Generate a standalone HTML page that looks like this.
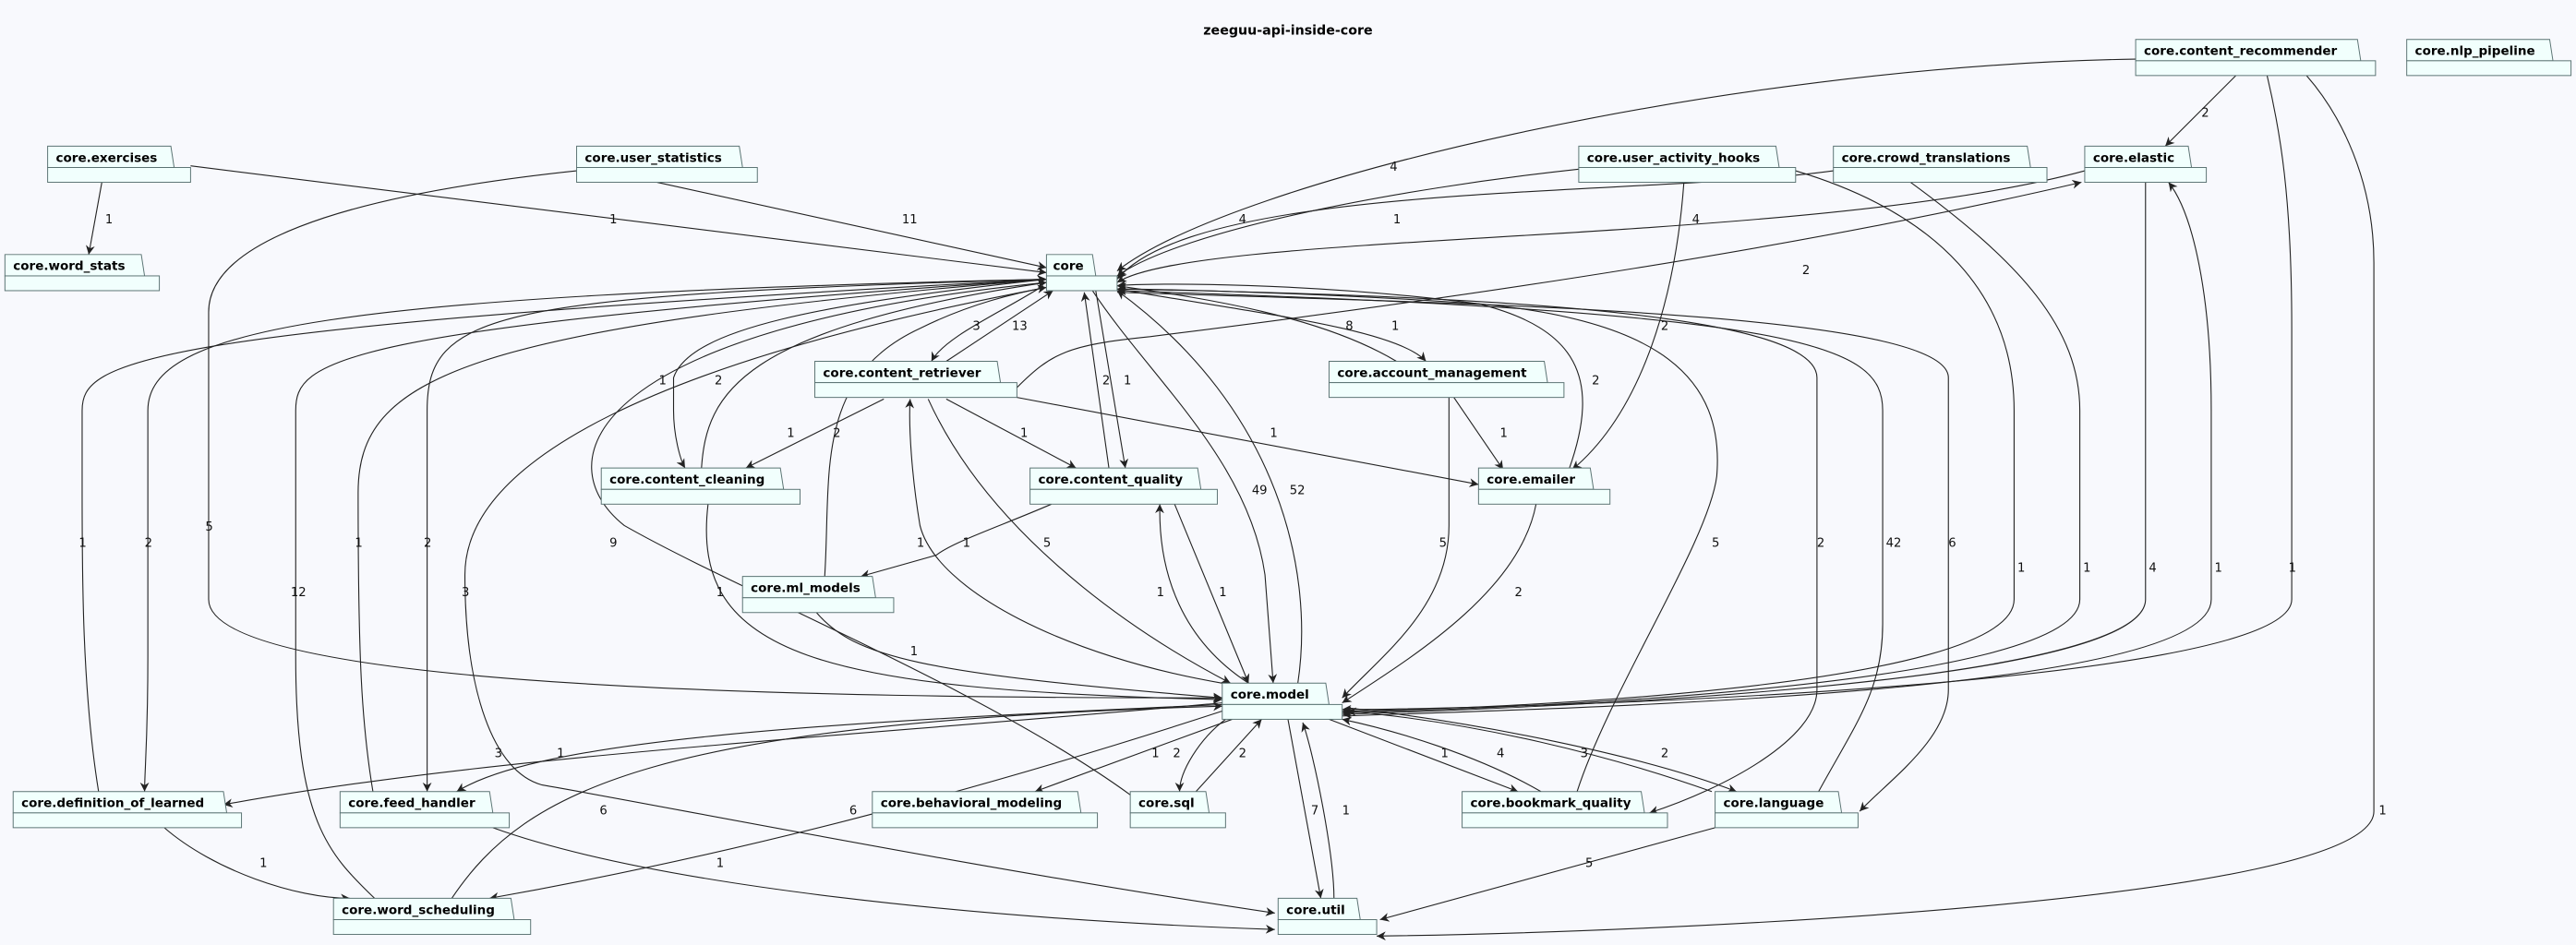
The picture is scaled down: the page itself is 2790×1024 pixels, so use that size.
<!DOCTYPE html>
<html><head><meta charset="utf-8"><style>
html,body{margin:0;padding:0;background:#F8F9FD;}
svg{display:block}
.e{fill:none;stroke:#222;stroke-width:0.62;}
.l{font-family:"DejaVu Sans","Liberation Sans",sans-serif;font-size:7.4px;fill:#111;}
.n{font-family:"DejaVu Sans","Liberation Sans",sans-serif;font-size:7.6px;font-weight:bold;fill:#000;}
.t{fill:#F1FFFD;stroke:#5b7373;stroke-width:0.55;}
</style></head><body>
<svg width="2790" height="1024" viewBox="0 0 2790 1024" xmlns="http://www.w3.org/2000/svg">
<rect width="2790" height="1024" fill="#F8F9FD"/>
<defs>
<marker id="a" viewBox="0 0 10 10" refX="10" refY="5" markerWidth="5.5" markerHeight="5.5" markerUnits="userSpaceOnUse" orient="auto">
<path d="M0,0 L10,5 L0,10 L3,5 z" fill="#222"/></marker>
</defs>
<g transform="scale(1.7793,1.7795)">
<text x="784" y="21" text-anchor="middle" class="n" style="font-size:8px">zeeguu-api-inside-core</text>
<g marker-end="url(#a)">
<path class="e" d="M62,111 L54,155"/>
<path class="e" d="M116,101 L637,166"/>
<path class="e" d="M400,111 L637,163"/>
<path class="e" d="M351,104 C200,120 127,150 127,190 L127,365 C127,420 500,425 744,425"/>
<path class="e" d="M1300,36 C1050,40 750,110 680,165"/>
<path class="e" d="M1361,46 L1318,89"/>
<path class="e" d="M1380,46 C1388,80 1395,120 1395,200 L1395,365 C1395,420 900,432 817,432"/>
<path class="e" d="M1404,46 C1425,70 1445,110 1445,160 L1445,494 C1445,550 1000,568 838,570"/>
<path class="e" d="M961,103 C850,115 720,140 680,168"/>
<path class="e" d="M1025,111 C1020,180 1000,250 957,286"/>
<path class="e" d="M1093,104 C1180,130 1226,180 1226,250 L1226,365 C1226,420 900,432 817,433"/>
<path class="e" d="M1116,104 C1000,120 730,110 680,170"/>
<path class="e" d="M1163,111 C1230,160 1266,200 1266,250 L1266,365 C1266,420 900,432 817,434"/>
<path class="e" d="M1269,104 C1100,150 730,140 680,172"/>
<path class="e" d="M1306,111 L1306,365 C1306,420 900,432 817,435"/>
<path class="e" d="M817,436 C1000,430 1346,420 1346,365 L1346,250 C1346,180 1335,130 1320,111"/>
<path class="e" d="M619,236 C640,215 650,210 700,205 C900,180 1100,150 1267,111"/>
<path class="e" d="M635,174 C610,190 575,205 567,220"/>
<path class="e" d="M576,220 L641,177"/>
<path class="e" d="M538,243 L454,285"/>
<path class="e" d="M576,243 L655,285"/>
<path class="e" d="M619,242 L900,295"/>
<path class="e" d="M565,243 C600,320 680,380 749,416"/>
<path class="e" d="M744,416 C650,400 570,360 560,320 C555,290 553,260 554,243"/>
<path class="e" d="M637,170 C500,185 420,200 410,230 L410,250 C410,265 414,280 417,285"/>
<path class="e" d="M427,285 C430,240 450,200 637,172"/>
<path class="e" d="M667,177 L685,285"/>
<path class="e" d="M675,285 L660,178"/>
<path class="e" d="M665,177 C700,230 760,280 770,350 L775,416"/>
<path class="e" d="M790,416 C800,350 780,250 680,177"/>
<path class="e" d="M850,220 C800,190 720,180 680,174"/>
<path class="e" d="M680,176 C760,190 850,200 868,220"/>
<path class="e" d="M885,242 L915,286"/>
<path class="e" d="M882,242 L882,320 C882,370 840,400 817,425"/>
<path class="e" d="M955,286 C975,230 960,200 900,185 C800,172 700,172 680,174"/>
<path class="e" d="M935,307 C925,360 860,400 817,428"/>
<path class="e" d="M502,351 C506,290 495,230 560,200 C590,185 620,178 637,175"/>
<path class="e" d="M640,307 C610,320 580,330 570,338 L524,351"/>
<path class="e" d="M497,373 C520,400 560,410 744,425"/>
<path class="e" d="M431,307 C420,400 500,420 744,426"/>
<path class="e" d="M760,416 C720,390 705,350 706,307"/>
<path class="e" d="M715,307 L760,416"/>
<path class="e" d="M60,482 C50,420 50,350 50,300 L50,250 C50,220 80,200 637,170"/>
<path class="e" d="M637,170 C200,180 90,200 90,250 L90,400 C90,450 88,470 88,482"/>
<path class="e" d="M637,170 C300,180 260,190 260,250 L260,482"/>
<path class="e" d="M227,482 C220,440 218,400 218,300 C218,230 280,200 637,170"/>
<path class="e" d="M228,547 C200,520 180,500 180,400 L180,250 C180,220 200,200 637,170"/>
<path class="e" d="M637,175 C400,220 283,280 283,350 C283,420 300,470 330,478 C400,490 600,530 776,556"/>
<path class="e" d="M688,484 C600,420 450,360 380,320 C330,280 360,200 637,172"/>
<path class="e" d="M744,428 C500,450 300,460 136,490"/>
<path class="e" d="M744,429 C500,440 330,450 278,482"/>
<path class="e" d="M275,547 C320,480 400,440 744,430"/>
<path class="e" d="M744,433 C600,480 450,520 298,547"/>
<path class="e" d="M100,504 C130,530 180,547 213,547"/>
<path class="e" d="M300,504 C400,540 600,560 776,566"/>
<path class="e" d="M750,438 L630,482"/>
<path class="e" d="M746,438 C730,450 718,470 718,482"/>
<path class="e" d="M728,482 L768,438"/>
<path class="e" d="M784,438 L804,547"/>
<path class="e" d="M812,547 C812,520 800,460 793,440"/>
<path class="e" d="M809,438 L924,482"/>
<path class="e" d="M938,482 C900,460 850,445 817,438"/>
<path class="e" d="M1042,482 C980,460 900,440 820,433"/>
<path class="e" d="M820,431 C900,440 1000,460 1057,482"/>
<path class="e" d="M960,482 C980,420 1040,330 1045,290 C1050,230 1010,195 900,185 C800,178 700,176 680,176"/>
<path class="e" d="M680,176 C900,180 1106,190 1106,230 L1106,420 C1106,450 1050,480 1004,495"/>
<path class="e" d="M1107,482 C1130,440 1146,420 1146,380 L1146,250 C1146,210 1100,190 680,177"/>
<path class="e" d="M680,178 C900,185 1186,190 1186,230 L1186,420 C1186,450 1150,475 1132,494"/>
<path class="e" d="M1044,504 L840,560"/>
</g>
<g class="l">
<text x="64" y="136">1</text><text x="371" y="136">1</text><text x="549" y="136">11</text>
<text x="125" y="323">5</text><text x="846" y="104">4</text><text x="1340" y="71">2</text>
<text x="1393" y="348">1</text><text x="1448" y="496">1</text><text x="754" y="136">4</text>
<text x="1030" y="136">4</text><text x="1011" y="201">2</text><text x="1228" y="348">1</text>
<text x="848" y="136">1</text><text x="1268" y="348">1</text><text x="1308" y="348">4</text>
<text x="1348" y="348">1</text><text x="1097" y="167">2</text><text x="592" y="201">3</text>
<text x="616" y="201">13</text><text x="507" y="266">2</text><text x="621" y="266">1</text>
<text x="773" y="266">1</text><text x="635" y="333">5</text><text x="558" y="333">1</text>
<text x="401" y="234">1</text><text x="435" y="234">2</text><text x="671" y="234">2</text>
<text x="684" y="234">1</text><text x="762" y="301">49</text><text x="785" y="301">52</text>
<text x="819" y="201">8</text><text x="847" y="201">1</text><text x="913" y="266">1</text>
<text x="876" y="333">5</text><text x="969" y="234">2</text><text x="922" y="363">2</text>
<text x="479" y="266">1</text><text x="586" y="333">1</text><text x="554" y="399">1</text>
<text x="436" y="363">1</text><text x="704" y="363">1</text><text x="742" y="363">1</text>
<text x="48" y="333">1</text><text x="88" y="333">2</text><text x="216" y="333">1</text>
<text x="258" y="333">2</text><text x="177" y="363">12</text><text x="281" y="363">3</text>
<text x="371" y="333">9</text><text x="301" y="461">3</text><text x="339" y="461">1</text>
<text x="365" y="496">6</text><text x="517" y="496">6</text><text x="158" y="528">1</text>
<text x="436" y="528">1</text><text x="701" y="461">1</text><text x="714" y="461">2</text>
<text x="754" y="461">2</text><text x="798" y="496">7</text><text x="817" y="496">1</text>
<text x="877" y="461">1</text><text x="911" y="461">4</text><text x="962" y="461">3</text>
<text x="1011" y="461">2</text><text x="1042" y="333">5</text><text x="1106" y="333">2</text>
<text x="1148" y="333">42</text><text x="1186" y="333">6</text><text x="965" y="528">5</text>
</g>
<g id="nodes">
<g><path class="t" d="M637,155 L665,155 L667,168 L637,168 Z"/><rect class="t" x="637" y="168" width="43" height="9"/><text class="n" x="641" y="164.5">core</text></g>
<g><path class="t" d="M3,155 L86,155 L88,168 L3,168 Z"/><rect class="t" x="3" y="168" width="94" height="9"/><text class="n" x="8" y="164.5">core.word_stats</text></g>
<g><path class="t" d="M29,89 L104,89 L106,102 L29,102 Z"/><rect class="t" x="29" y="102" width="87" height="9"/><text class="n" x="34" y="98.5">core.exercises</text></g>
<g><path class="t" d="M351,89 L450,89 L452,102 L351,102 Z"/><rect class="t" x="351" y="102" width="110" height="9"/><text class="n" x="356" y="98.5">core.user_statistics</text></g>
<g><path class="t" d="M1300,24 L1435,24 L1437,37 L1300,37 Z"/><rect class="t" x="1300" y="37" width="146" height="9"/><text class="n" x="1305" y="33.5">core.content_recommender</text></g>
<g><path class="t" d="M1465,24 L1552,24 L1554,37 L1465,37 Z"/><rect class="t" x="1465" y="37" width="100" height="9"/><text class="n" x="1470" y="33.5">core.nlp_pipeline</text></g>
<g><path class="t" d="M961,89 L1081,89 L1083,102 L961,102 Z"/><rect class="t" x="961" y="102" width="132" height="9"/><text class="n" x="966" y="98.5">core.user_activity_hooks</text></g>
<g><path class="t" d="M1116,89 L1234,89 L1236,102 L1116,102 Z"/><rect class="t" x="1116" y="102" width="130" height="9"/><text class="n" x="1121" y="98.5">core.crowd_translations</text></g>
<g><path class="t" d="M1269,89 L1332,89 L1334,102 L1269,102 Z"/><rect class="t" x="1269" y="102" width="74" height="9"/><text class="n" x="1274" y="98.5">core.elastic</text></g>
<g><path class="t" d="M496,220 L607,220 L609,233 L496,233 Z"/><rect class="t" x="496" y="233" width="123" height="9"/><text class="n" x="501" y="229.5">core.content_retriever</text></g>
<g><path class="t" d="M809,220 L940,220 L942,233 L809,233 Z"/><rect class="t" x="809" y="233" width="143" height="9"/><text class="n" x="814" y="229.5">core.account_management</text></g>
<g><path class="t" d="M366,285 L475,285 L477,298 L366,298 Z"/><rect class="t" x="366" y="298" width="121" height="9"/><text class="n" x="371" y="294.5">core.content_cleaning</text></g>
<g><path class="t" d="M627,285 L729,285 L731,298 L627,298 Z"/><rect class="t" x="627" y="298" width="114" height="9"/><text class="n" x="632" y="294.5">core.content_quality</text></g>
<g><path class="t" d="M900,285 L968,285 L970,298 L900,298 Z"/><rect class="t" x="900" y="298" width="80" height="9"/><text class="n" x="905" y="294.5">core.emailer</text></g>
<g><path class="t" d="M452,351 L531,351 L533,364 L452,364 Z"/><rect class="t" x="452" y="364" width="92" height="9"/><text class="n" x="457" y="360.5">core.ml_models</text></g>
<g><path class="t" d="M744,416 L807,416 L809,429 L744,429 Z"/><rect class="t" x="744" y="429" width="73" height="9"/><text class="n" x="749" y="425.5">core.model</text></g>
<g><path class="t" d="M8,482 L136,482 L138,495 L8,495 Z"/><rect class="t" x="8" y="495" width="139" height="9"/><text class="n" x="13" y="491.5">core.definition_of_learned</text></g>
<g><path class="t" d="M207,482 L298,482 L300,495 L207,495 Z"/><rect class="t" x="207" y="495" width="103" height="9"/><text class="n" x="212" y="491.5">core.feed_handler</text></g>
<g><path class="t" d="M531,482 L656,482 L658,495 L531,495 Z"/><rect class="t" x="531" y="495" width="137" height="9"/><text class="n" x="536" y="491.5">core.behavioral_modeling</text></g>
<g><path class="t" d="M688,482 L734,482 L736,495 L688,495 Z"/><rect class="t" x="688" y="495" width="58" height="9"/><text class="n" x="693" y="491.5">core.sql</text></g>
<g><path class="t" d="M890,482 L999,482 L1001,495 L890,495 Z"/><rect class="t" x="890" y="495" width="125" height="9"/><text class="n" x="895" y="491.5">core.bookmark_quality</text></g>
<g><path class="t" d="M1044,482 L1119,482 L1121,495 L1044,495 Z"/><rect class="t" x="1044" y="495" width="87" height="9"/><text class="n" x="1049" y="491.5">core.language</text></g>
<g><path class="t" d="M203,547 L311,547 L313,560 L203,560 Z"/><rect class="t" x="203" y="560" width="120" height="9"/><text class="n" x="208" y="556.5">core.word_scheduling</text></g>
<g><path class="t" d="M778,547 L826,547 L828,560 L778,560 Z"/><rect class="t" x="778" y="560" width="60" height="9"/><text class="n" x="783" y="556.5">core.util</text></g>
</g>
</g>
</svg>
</body></html>
